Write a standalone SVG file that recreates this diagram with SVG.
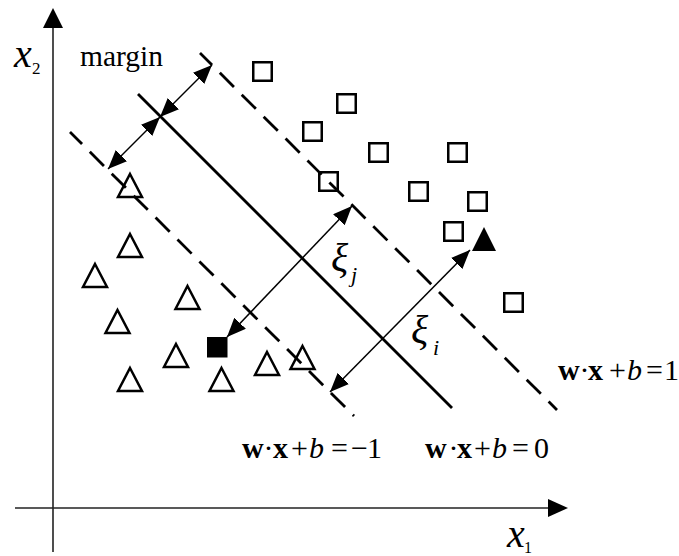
<svg xmlns="http://www.w3.org/2000/svg" xmlns:xlink="http://www.w3.org/1999/xlink" width="679" height="556" viewBox="0 0 679 556">
<style>
text{font-family:"Liberation Serif","Times New Roman",serif;fill:#000}
.eq{font-size:30px}
.b{font-weight:bold}
.i{font-style:italic}
.pt{fill:none;stroke:#000;stroke-width:2.5}
.sep{fill:none;stroke:#000;stroke-width:2.8}
.dash{stroke-dasharray:20 11;stroke-dashoffset:3}
.arr{fill:none;stroke:#000;stroke-width:1.5;marker-start:url(#ah);marker-end:url(#ah)}
.axis{fill:none;stroke:#222;stroke-width:1.6}
</style>
<defs>
<marker id="ah" markerUnits="userSpaceOnUse" markerWidth="20" markerHeight="16" refX="19" refY="8" orient="auto-start-reverse">
<path d="M0,0 L19,8 L0,16 Z" fill="#000"/>
</marker>
<path id="tri" d="M0,-23 L12,0 L-12,0 Z"/>
<rect id="sq" x="1.25" y="1.25" width="18.5" height="18.5"/>
</defs>
<rect width="679" height="556" fill="#fff"/>

<g id="axes">
<line class="axis" x1="53" y1="24" x2="53" y2="552"/>
<path d="M53,8 L63,28 L43,28 Z" fill="#000"/>
<line class="axis" x1="15" y1="508" x2="552" y2="508"/>
<path d="M568,508 L548,499 L548,517 Z" fill="#000"/>
<text class="i" x="14" y="67" font-size="40">x</text>
<text x="32" y="74" font-size="17">2</text>
<text class="i" x="507" y="547" font-size="40">x</text>
<text x="524" y="553" font-size="16">1</text>
</g>

<g id="hyperplanes">
<line class="sep dash" x1="200" y1="53" x2="557" y2="410"/>
<line class="sep" x1="138" y1="94" x2="452" y2="408"/>
<line class="sep dash" x1="70" y1="132" x2="354" y2="416"/>
</g>

<g id="squares" class="pt">
<use xlink:href="#sq" x="252" y="61"/>
<use xlink:href="#sq" x="336" y="93"/>
<use xlink:href="#sq" x="302" y="121"/>
<use xlink:href="#sq" x="368" y="142"/>
<use xlink:href="#sq" x="447" y="142"/>
<use xlink:href="#sq" x="318" y="171"/>
<use xlink:href="#sq" x="408" y="181"/>
<use xlink:href="#sq" x="467" y="191"/>
<use xlink:href="#sq" x="443" y="221"/>
<use xlink:href="#sq" x="503" y="292"/>
</g>

<g id="triangles" class="pt">
<use xlink:href="#tri" x="130" y="197"/>
<use xlink:href="#tri" x="130" y="257"/>
<use xlink:href="#tri" x="95" y="287"/>
<use xlink:href="#tri" x="187.5" y="309"/>
<use xlink:href="#tri" x="117.5" y="333"/>
<use xlink:href="#tri" x="176" y="367"/>
<use xlink:href="#tri" x="130" y="391"/>
<use xlink:href="#tri" x="221.5" y="391"/>
<use xlink:href="#tri" x="267" y="375"/>
<use xlink:href="#tri" x="302.5" y="369"/>
</g>

<g id="outliers">
<rect x="207" y="337" width="20.5" height="20.5" fill="#000"/>
<path d="M484,227 L496,251 L472,251 Z" fill="#000"/>
</g>

<g id="connectors">
<line class="arr" x1="160" y1="117" x2="212" y2="65"/>
<line class="arr" x1="160" y1="117" x2="108" y2="169"/>
<line class="arr" x1="227" y1="337" x2="352" y2="206"/>
<line class="arr" x1="330" y1="392" x2="470" y2="250"/>
</g>

<g id="labels">
<text x="80" y="66" font-size="29.5">margin</text>
<text class="i" x="331" y="271" font-size="40">ξ</text>
<text class="i" x="351" y="282" font-size="22">j</text>
<text class="i" x="411" y="343" font-size="40">ξ</text>
<text class="i" x="433" y="355" font-size="22">i</text>
<text class="eq" y="458"><tspan class="b" x="242">w</tspan><tspan x="263.5">·</tspan><tspan class="b" x="273">x</tspan><tspan x="291">+</tspan><tspan class="i" x="309">b</tspan><tspan x="331">=</tspan><tspan x="351">−</tspan><tspan x="367">1</tspan></text>
<text class="eq" y="458"><tspan class="b" x="425">w</tspan><tspan x="448.5">·</tspan><tspan class="b" x="457">x</tspan><tspan x="474">+</tspan><tspan class="i" x="492">b</tspan><tspan x="512">=</tspan><tspan x="534">0</tspan></text>
<text class="eq" y="380"><tspan class="b" x="558">w</tspan><tspan x="579.5">·</tspan><tspan class="b" x="588">x</tspan><tspan x="609">+</tspan><tspan class="i" x="627">b</tspan><tspan x="646">=</tspan><tspan x="664">1</tspan></text>
</g>
</svg>
